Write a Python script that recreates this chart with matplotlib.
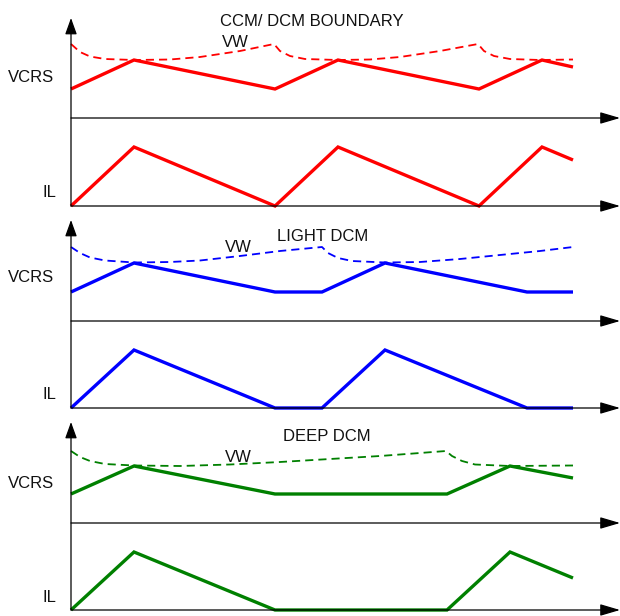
import matplotlib
matplotlib.use("Agg")
import matplotlib.pyplot as plt

plt.rcParams['font.family'] = ['Liberation Sans', 'DejaVu Sans']

# ---------------- data (time in arbitrary units, signals in arbitrary units) -------------
titles = ["CCM/ DCM BOUNDARY", "LIGHT DCM", "DEEP DCM"]
colors = ["#ff0000", "#0000ff", "#008000"]

# Panel 1: CCM / DCM boundary
t1 = [0, 63, 204, 267, 408, 471, 502]
vcrs1 = [29, 58, 29, 58, 29, 58, 51]
il1 = [0, 59, 0, 59, 0, 59, 46]
tw1 = [0, 9, 19, 34, 63, 99, 129, 169, 203, 209, 219, 234, 267, 299, 329, 369, 407, 413, 423, 439, 469, 502]
vw1 = [74, 66, 61.5, 59, 58, 58.5, 61, 67, 74, 67, 62, 59, 58, 58.5, 61, 67, 74, 67, 62, 59, 58, 58.5]

# Panel 2: light DCM
t2 = [0, 63, 204, 251, 314, 456, 502]
vcrs2 = [29, 58, 29, 29, 58, 29, 29]
il2 = [0, 58, 0, 0, 58, 0, 0]
tw2 = [0, 9, 19, 34, 63, 99, 129, 169, 209, 251, 257, 267, 281, 314, 349, 389, 429, 469, 502]
vw2 = [74, 68, 63.5, 60.5, 58.5, 59, 60.5, 65, 70, 74, 68, 63, 60, 58.5, 59, 62, 66, 70, 74]

# Panel 3: deep DCM
t3 = [0, 63, 204, 376, 439, 502]
vcrs3 = [29, 57, 29, 29, 57, 45]
il3 = [0, 58, 0, 0, 58, 32]
tw3 = [0, 9, 19, 34, 63, 109, 159, 209, 259, 309, 349, 375, 381, 391, 404, 439, 502]
vw3 = [72, 66, 62, 59, 57.5, 57, 58.5, 61, 64, 67, 70, 72, 67, 62, 58.5, 57, 57.5]

panels = [
    (t1, vcrs1, il1, tw1, vw1),
    (t2, vcrs2, il2, tw2, vw2),
    (t3, vcrs3, il3, tw3, vw3),
]

# ---------------- layout (pixels from top-left) ----------------
W, H = 620, 616
x_left, x_right = 71, 620
# (arrow tip, middle axis, bottom axis)
geom = [(18, 118, 206), (220, 321, 408), (422, 523, 610)]
label_pos = [
    # (vcrs baseline, il baseline, vw x, vw baseline, title x, title baseline)
    (82, 197, 222, 47, 220, 26),
    (282, 399, 225, 252, 277, 241),
    (488, 602, 225, 462, 283, 441),
]

fig = plt.figure(figsize=(W / 100, H / 100), dpi=100)


def fx(x):
    return x / W


def fy(y):
    return 1 - y / H


def arrow(x0, y0, x1, y1, hl, hw):
    fig.add_artist(matplotlib.patches.FancyArrowPatch(
        (fx(x0), fy(y0)), (fx(x1), fy(y1)), transform=fig.transFigure,
        arrowstyle=f"-|>,head_length={hl},head_width={hw}",
        mutation_scale=10, lw=0.9, color="black",
        shrinkA=0, shrinkB=0))


for i, (t, vcrs, il, tw, vw) in enumerate(panels):
    tip, mid, bot = geom[i]
    c = colors[i]
    ax_u = fig.add_axes([fx(x_left), fy(mid), fx(x_right - x_left), (mid - tip) / H])
    ax_l = fig.add_axes([fx(x_left), fy(bot), fx(x_right - x_left), (bot - mid) / H])
    ax_u.set_xlim(0, x_right - x_left)
    ax_l.set_xlim(0, x_right - x_left)
    ax_u.set_ylim(0, mid - tip)
    ax_l.set_ylim(0, bot - mid)
    for a in (ax_u, ax_l):
        a.axis("off")
        a.patch.set_alpha(0)

    ax_u.plot(tw, vw, color=c, lw=1.3, dashes=(4.5, 2.8), clip_on=False)
    ax_u.plot(t, vcrs, color=c, lw=2.4, solid_joinstyle="miter",
              solid_capstyle="butt", clip_on=False)
    ax_l.plot(t, il, color=c, lw=2.4, solid_joinstyle="miter",
              solid_capstyle="butt", clip_on=False, zorder=3)

    # axes with arrows
    arrow(x_left, bot, x_left, tip, 1.0, 0.36)
    arrow(x_left, mid, x_right, mid, 1.22, 0.36)
    arrow(x_left, bot, x_right, bot, 1.22, 0.36)

    vb, ib, vwx, vwb, tx, tb = label_pos[i]
    fig.text(fx(8), fy(vb), "VCRS", fontsize=12, va="baseline", ha="left", color="#111111")
    fig.text(fx(43), fy(ib), "IL", fontsize=12, va="baseline", ha="left", color="#111111")
    fig.text(fx(vwx), fy(vwb), "VW", fontsize=12, va="baseline", ha="left", color="#111111")
    fig.text(fx(tx), fy(tb), titles[i], fontsize=12, va="baseline", ha="left", color="#111111")

fig.savefig("out.png", dpi=100)
